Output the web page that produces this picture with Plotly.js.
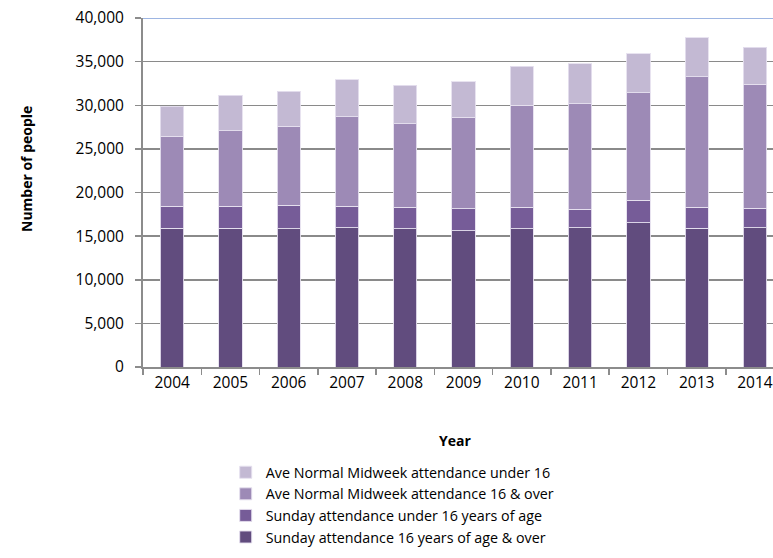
<!DOCTYPE html>
<html>
<head>
<meta charset="utf-8">
<script src="https://cdn.plot.ly/plotly-3.0.1.min.js"></script>
<style>
  html, body { margin: 0; padding: 0; background: #ffffff; }
  #chart { width: 773px; height: 558px; }
</style>
</head>
<body>
<div id="chart"></div>
<script>
const years = ['2004','2005','2006','2007','2008','2009','2010','2011','2012','2013','2014'];
const sunday16Over   = [15920, 15920, 15850, 15970, 15850, 15600, 15850, 15970, 16540, 15920, 15970];
const sundayUnder16  = [2515, 2515, 2700, 2470, 2470, 2515, 2470, 2120, 2580, 2400, 2240];
const midweek16Over  = [8000, 8620, 9030, 10250, 9570, 10490, 11660, 12110, 12340, 14940, 14170];
const midweekUnder16 = [3430, 4110, 4000, 4260, 4380, 4080, 4500, 4540, 4420, 4490, 4270];
const yTicks = [0, 5000, 10000, 15000, 20000, 25000, 30000, 35000, 40000];
const yTickText = ['0','5,000','10,000','15,000','20,000','25,000','30,000','35,000','40,000'];
const xTitle = 'Year';
const yTitle = 'Number of people';

const FONT = 'Open Sans, sans-serif';
const edge = {color: 'rgba(230,224,238,0.9)', width: 1};

const traces = [
  {name: 'Sunday attendance 16 years of age & over', y: sunday16Over, color: '#614C7E'},
  {name: 'Sunday attendance under 16 years of age', y: sundayUnder16, color: '#765C98'},
  {name: 'Ave Normal Midweek attendance 16 & over', y: midweek16Over, color: '#9D8AB6'},
  {name: 'Ave Normal Midweek attendance under 16', y: midweekUnder16, color: '#C3B9D3'}
].map(t => ({
  type: 'bar',
  x: years,
  y: t.y,
  name: t.name,
  width: 0.4,
  marker: {color: t.color, line: edge},
  hoverinfo: 'x+y+name'
}));

// plot area geometry (margins), used to place the two axis-title annotations
const M = {l: 143, r: 0, t: 18, b: 191};
const plotW = 773 - M.l - M.r, plotH = 558 - M.t - M.b;

const layout = {
  width: 773,
  height: 558,
  margin: {l: M.l, r: M.r, t: M.t, b: M.b, autoexpand: false},
  paper_bgcolor: '#ffffff',
  plot_bgcolor: '#ffffff',
  barmode: 'stack',
  font: {family: FONT, size: 15.5, color: '#000000'},
  xaxis: {
    type: 'category',
    range: [-0.5, 10.31],
    showgrid: false,
    showline: true,
    linecolor: '#8c8c8c',
    linewidth: 2,
    ticks: 'outside',
    tickson: 'boundaries',
    ticklen: 6,
    tickwidth: 1.5,
    tickcolor: '#8c8c8c',
    tickangle: 0,
    tickfont: {family: FONT, size: 15.5, color: '#000000'},
    automargin: false,
    fixedrange: true
  },
  yaxis: {
    range: [0, 40000],
    tickvals: yTicks,
    ticktext: yTickText,
    showgrid: true,
    gridcolor: '#8a8a8a',
    gridwidth: 1.5,
    zeroline: false,
    showline: true,
    linecolor: '#8c8c8c',
    linewidth: 2,
    ticks: 'outside',
    ticklen: 6,
    tickwidth: 1.5,
    tickcolor: '#8c8c8c',
    ticklabelstandoff: 8,
    tickfont: {family: FONT, size: 15.5, color: '#000000'},
    automargin: false,
    fixedrange: true
  },
  shapes: [{
    type: 'line', xref: 'paper', yref: 'y',
    x0: 0, x1: 1, y0: 40000, y1: 40000,
    line: {color: '#9DB5E2', width: 2}
  }],
  annotations: [
    {text: '<b>' + xTitle + '</b>', xref: 'paper', yref: 'paper',
     x: (455 - M.l) / plotW, y: (558 - M.b - 440) / plotH,
     xanchor: 'center', yanchor: 'middle', showarrow: false,
     font: {family: FONT, size: 14, color: '#000000'}},
    {text: '<b>' + yTitle + '</b>', xref: 'paper', yref: 'paper',
     x: (26 - M.l) / plotW, y: (558 - M.b - 169) / plotH,
     xanchor: 'center', yanchor: 'middle', showarrow: false, textangle: -90,
     font: {family: FONT, size: 14, color: '#000000'}}
  ],
  showlegend: true,
  legend: {
    traceorder: 'reversed',
    xref: 'container', yref: 'container',
    x: 0.292, y: 0.182,
    xanchor: 'left', yanchor: 'top',
    bgcolor: 'rgba(0,0,0,0)',
    font: {family: FONT, size: 14.3, color: '#000000'},
    itemwidth: 30,
    tracegroupgap: 0
  },
  bargap: 0.6
};

Plotly.newPlot('chart', traces, layout, {displayModeBar: false, staticPlot: true});
</script>
</body>
</html>
